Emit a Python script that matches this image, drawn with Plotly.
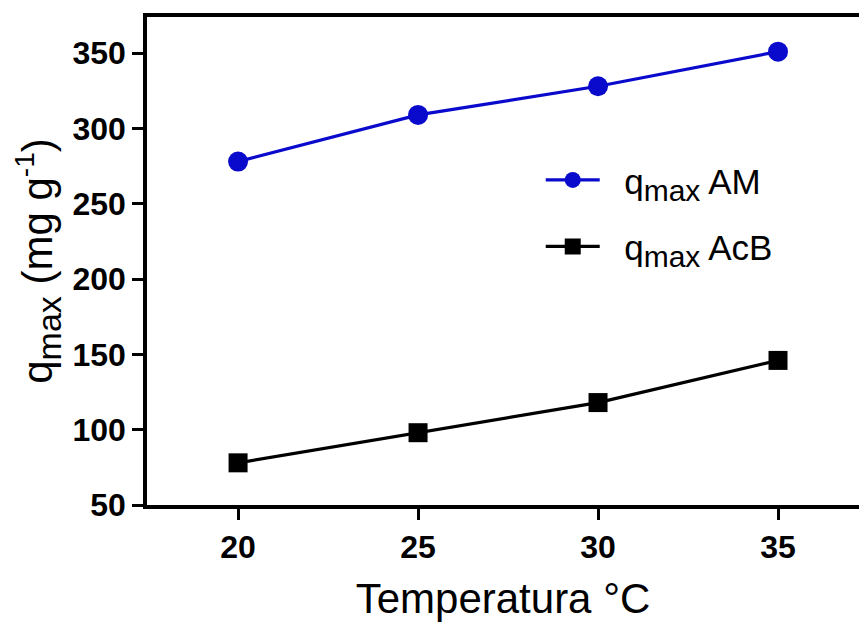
import plotly.graph_objects as go

temperature = [20, 25, 30, 35]
qmax_am = [278, 309, 328, 351]
qmax_acb = [78, 98, 118, 146]

x_ticks = [20, 25, 30, 35]
y_ticks = [50, 100, 150, 200, 250, 300, 350]

FONT = "Liberation Sans, Arial, sans-serif"
NB = "\u00a0\u00a0"

fig = go.Figure()
fig.add_trace(go.Scatter(
    x=temperature, y=qmax_am, mode="lines+markers",
    name=NB + 'q<sub><span style="font-size:30px">max</span></sub> AM', legendgroup="am",
    line=dict(color="#0a0acd", width=3.2),
    marker=dict(symbol="circle", size=20, color="#0a0acd"),
))
fig.add_trace(go.Scatter(
    x=temperature, y=qmax_acb, mode="lines+markers",
    name=NB + 'q<sub><span style="font-size:30px">max</span></sub> AcB', legendgroup="acb",
    line=dict(color="#000000", width=3.2),
    marker=dict(symbol="square", size=19, color="#000000"),
))

fig.update_layout(
    width=859, height=622,
    margin=dict(l=147, r=0, t=17, b=117),
    paper_bgcolor="white", plot_bgcolor="white",
    font=dict(family=FONT, color="black"),
    showlegend=True,
    legend=dict(
        x=0.553, y=0.598, xanchor="left", yanchor="middle",
        font=dict(size=35, family=FONT, color="black"),
        bgcolor="rgba(0,0,0,0)", itemwidth=54, tracegroupgap=18,
        traceorder="grouped",
    ),
    xaxis=dict(
        range=[17.47, 37.25], tickvals=x_ticks,
        showline=True, linecolor="black", linewidth=3.5, mirror=True,
        ticks="outside", ticklen=11, tickwidth=3, tickcolor="black",
        showgrid=False, zeroline=False,
        tickfont=dict(size=32, family=FONT, weight="bold"),
        title=dict(text="Temperatura °C", font=dict(size=42, family=FONT), standoff=23),
    ),
    yaxis=dict(
        range=[50, 374], tickvals=y_ticks,
        showline=True, linecolor="black", linewidth=3.5, mirror=False,
        ticks="outside", ticklen=11, tickwidth=3, tickcolor="black",
        showgrid=False, zeroline=False,
        tickfont=dict(size=32, family=FONT, weight="bold"),
        title=dict(
            text='q<sub><span style="font-size:34px">max</span></sub> (mg g<sup><span style="font-size:28px">-1</span></sup>)',
            font=dict(size=42, family=FONT), standoff=8,
        ),
    ),
)

fig.write_html("out.html")
